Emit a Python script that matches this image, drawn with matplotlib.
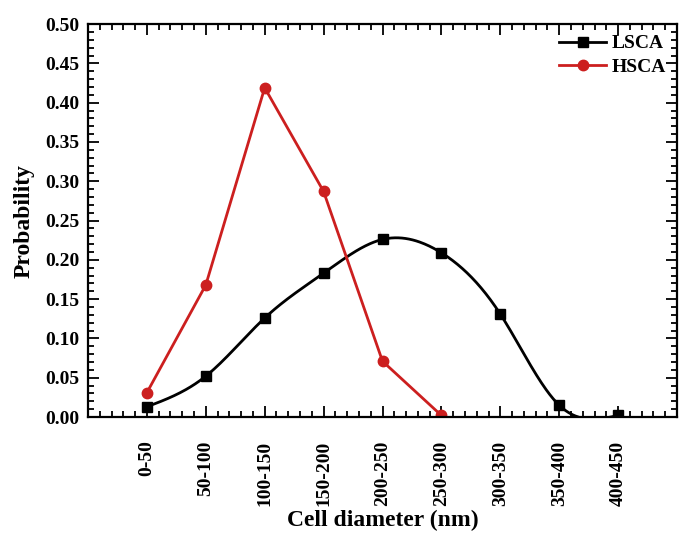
import numpy as np
import matplotlib
matplotlib.use("Agg")
import matplotlib.pyplot as plt
from matplotlib.ticker import MultipleLocator

plt.rcParams['font.family'] = ['Liberation Serif', 'DejaVu Serif']
plt.rcParams['font.weight'] = 'bold'

# data
categories = ['0-50', '50-100', '100-150', '150-200', '200-250',
              '250-300', '300-350', '350-400', '400-450']
lsca = [0.013, 0.052, 0.126, 0.183, 0.226, 0.209, 0.131, 0.015, 0.002]
hsca = [0.031, 0.168, 0.419, 0.287, 0.071, 0.002]


def natural_spline(x, y, n=400):
    # plain natural cubic spline, like Origin's "spline" connect
    x = np.asarray(x, float)
    y = np.asarray(y, float)
    k = len(x)
    h = np.diff(x)
    A = np.zeros((k, k))
    b = np.zeros(k)
    A[0, 0] = 1
    A[-1, -1] = 1
    for i in range(1, k - 1):
        A[i, i - 1] = h[i - 1]
        A[i, i] = 2 * (h[i - 1] + h[i])
        A[i, i + 1] = h[i]
        b[i] = 3 * ((y[i + 1] - y[i]) / h[i] - (y[i] - y[i - 1]) / h[i - 1])
    c = np.linalg.solve(A, b)
    xs = np.linspace(x[0], x[-1], n)
    ys = np.empty_like(xs)
    for j, xv in enumerate(xs):
        i = min(np.searchsorted(x, xv, side='right') - 1, k - 2)
        dx = xv - x[i]
        bi = (y[i + 1] - y[i]) / h[i] - h[i] * (2 * c[i] + c[i + 1]) / 3
        di = (c[i + 1] - c[i]) / (3 * h[i])
        ys[j] = y[i] + bi * dx + c[i] * dx ** 2 + di * dx ** 3
    return xs, ys


fig = plt.figure(figsize=(6.8, 5.36), dpi=100)
ax = fig.add_axes([0.1294, 0.222, 0.8662, 0.733])

xl = np.arange(len(lsca))
xh = np.arange(len(hsca))

xs, ys = natural_spline(xl, lsca)
ax.plot(xs, ys, color='black', lw=2)
ax.plot(xl, lsca, ls='none', marker='s', ms=7, color='black')
ax.plot([], [], color='black', lw=2, marker='s', ms=7, label='LSCA')

ax.plot(xh, hsca, color='#cc1f1f', lw=2, marker='o', ms=7.5, label='HSCA')

ax.set_xlim(-1, 9)
ax.set_ylim(0, 0.5)
ax.set_xticks(np.arange(len(categories)))
ax.set_xticklabels(categories, rotation=90)
ax.xaxis.set_minor_locator(MultipleLocator(0.2))
ax.yaxis.set_major_locator(MultipleLocator(0.05))
ax.yaxis.set_minor_locator(MultipleLocator(0.01))
ax.yaxis.set_major_formatter(plt.FormatStrFormatter('%.2f'))

ax.tick_params(which='both', direction='in', top=True, right=True,
               labelsize=14, width=1.3)
ax.tick_params(which='major', length=8)
ax.tick_params(which='minor', length=4)
ax.tick_params(axis='x', which='major', pad=17)
ax.tick_params(axis='y', which='major', pad=6)
for s in ax.spines.values():
    s.set_linewidth(1.6)

ax.set_xlabel('Cell diameter (nm)', fontsize=17, fontweight='bold', labelpad=3)
ax.set_ylabel('Probability', fontsize=17, fontweight='bold', labelpad=8)

ax.legend(loc='upper right', bbox_to_anchor=(1.0, 1.0), frameon=False,
          fontsize=14, handlelength=2.4, borderaxespad=0.0, borderpad=0.55,
          labelspacing=0.3, handletextpad=0.3)

fig.savefig('out.png', dpi=100)
